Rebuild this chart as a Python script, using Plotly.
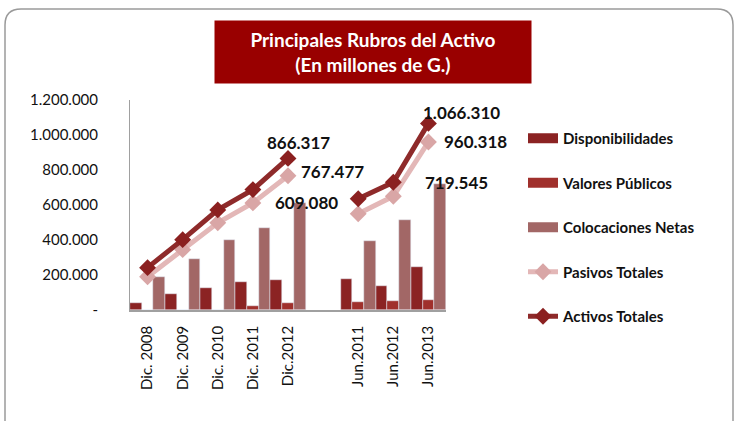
import plotly.graph_objects as go

# categories (blank slot separates the December and June series)
periodos = ["Dic. 2008", "Dic. 2009", "Dic. 2010", "Dic. 2011", "Dic.2012", " ",
            "Jun.2011", "Jun.2012", "Jun.2013"]

disponibilidades = [38000, 92000, 128000, 162000, 172000, None, 180000, 135000, 245000]
valores_publicos = [2000, 2000, 2000, 24000, 42000, None, 45000, 52000, 60000]
colocaciones = [188000, 290000, 402000, 466000, 609080, None, 396000, 516000, 719545]
pasivos = [190000, 345000, 498000, 612000, 767477, None, 550000, 650000, 960318]
activos = [242000, 402000, 572000, 688000, 866317, None, 636000, 730000, 1066310]

ytick_vals = [0, 200000, 400000, 600000, 800000, 1000000, 1200000]
ytick_text = ["-", "200.000", "400.000", "600.000", "800.000", "1.000.000", "1.200.000"]

FONT = "Lato"
LABEL_FONT = dict(family=FONT, size=17, color="#111", weight="bold")

C_DISP, C_VAL, C_COL = "#8B2323", "#A0302C", "#A26766"
C_PAS, C_PAS_M = "#E3B7B7", "#D9A6A6"
C_ACT, C_ACT_M = "#8E2A2A", "#8B2020"


def fmt(v):
    return f"{v:,}".replace(",", ".")


def block_ends(values):
    # index of the last point of each block (before a gap / at the end)
    return [i for i, v in enumerate(values)
            if v is not None and (i + 1 == len(values) or values[i + 1] is None)]


fig = go.Figure()

fig.add_trace(go.Bar(x=periodos, y=disponibilidades, name="Disponibilidades",
                     marker_color=C_DISP, showlegend=False))
fig.add_trace(go.Bar(x=periodos, y=valores_publicos, name="Valores Públicos",
                     marker_color=C_VAL, showlegend=False))
fig.add_trace(go.Bar(x=periodos, y=colocaciones, name="Colocaciones Netas",
                     marker_color=C_COL, showlegend=False))
fig.add_trace(go.Scatter(x=periodos, y=pasivos, name="Pasivos Totales",
                         mode="lines+markers", legendgroup="d",
                         line=dict(color=C_PAS, width=5),
                         marker=dict(symbol="diamond", size=13, color=C_PAS_M)))
fig.add_trace(go.Scatter(x=periodos, y=activos, name="Activos Totales",
                         mode="lines+markers", legendgroup="e",
                         line=dict(color=C_ACT, width=5),
                         marker=dict(symbol="diamond", size=13, color=C_ACT_M)))

# wide rectangular legend keys for the bar series
for nm, col, grp in [("Disponibilidades", C_DISP, "a"), ("Valores Públicos", C_VAL, "b"),
                     ("Colocaciones Netas", C_COL, "c")]:
    fig.add_trace(go.Scatter(x=[periodos[0]], y=[None], name=nm, mode="lines",
                             legendgroup=grp, legendrank=1,
                             line=dict(color=col, width=10)))

# value labels at the end of each block (shift in px relative to the point)
shifts = {"act": [(10, 16), (33, 11)], "pas": [(44, 4), (47, 0)], "col": [(18, 1), (28, 2)]}
for key, vals in [("act", activos), ("pas", pasivos), ("col", colocaciones)]:
    for k, i in enumerate(block_ends(vals)):
        dx, dy = shifts[key][k]
        fig.add_annotation(x=i, y=vals[i], text=fmt(vals[i]),
                           showarrow=False, xanchor="center", yanchor="middle",
                           xshift=dx, yshift=dy, font=LABEL_FONT)

# plot area in pixels: x 130..446, y 100..310
L, R, T, B = 130, 446, 100, 310


def px(x, y):
    return (x - L) / (R - L), (B - y) / (B - T)


# rounded outer frame
x0, y0 = px(5, 9)
x1, y1 = px(733, 440)
rx, ry = 16 / (R - L), 16 / (B - T)
path = (f"M {x0 + rx},{y0} L {x1 - rx},{y0} Q {x1},{y0} {x1},{y0 - ry} "
        f"L {x1},{y1} L {x0},{y1} L {x0},{y0 - ry} Q {x0},{y0} {x0 + rx},{y0} Z")
fig.add_shape(type="path", path=path, xref="paper", yref="paper",
              line=dict(color="#9a9a9a", width=1.5), layer="below")

tx, ty = px(373, 52)
fig.add_annotation(text="<b>Principales Rubros del Activo<br>(En millones de G.)</b>",
                   xref="paper", yref="paper", x=tx, y=ty, showarrow=False,
                   xanchor="center", yanchor="middle",
                   font=dict(family=FONT, size=19, color="white"),
                   bgcolor="#990000", width=310, height=56, borderpad=3)

lx, ly = px(523, 122)
fig.update_layout(
    width=737, height=421,
    margin=dict(l=L, r=737 - R, t=T, b=421 - B),
    paper_bgcolor="white", plot_bgcolor="white",
    barmode="group", bargap=0, bargroupgap=0,
    font=dict(family=FONT, size=14, color="#111"),
    showlegend=True,
    legend=dict(x=lx, y=ly, xanchor="left", yanchor="top", maxheight=400,
                font=dict(family=FONT, size=15, color="#111", weight="bold"),
                tracegroupgap=22, itemwidth=30, bgcolor="rgba(0,0,0,0)"),
    xaxis=dict(type="category", range=[-0.5, len(periodos) - 0.5],
               showline=True, linecolor="#a0a0a0", linewidth=1.5,
               tickangle=-90, ticks="", tickfont=dict(family=FONT, size=15),
               ticklabelstandoff=8),
    yaxis=dict(range=[0, 1200000], tickvals=ytick_vals, ticktext=ytick_text,
               showgrid=False, zeroline=False, showline=True, linecolor="#a0a0a0",
               linewidth=1, ticks="", ticklabelstandoff=28,
               tickfont=dict(family=FONT, size=15)),
)

fig.write_html("out.html", config={"displayModeBar": False},
               post_script="document.body.style.margin='0';")
